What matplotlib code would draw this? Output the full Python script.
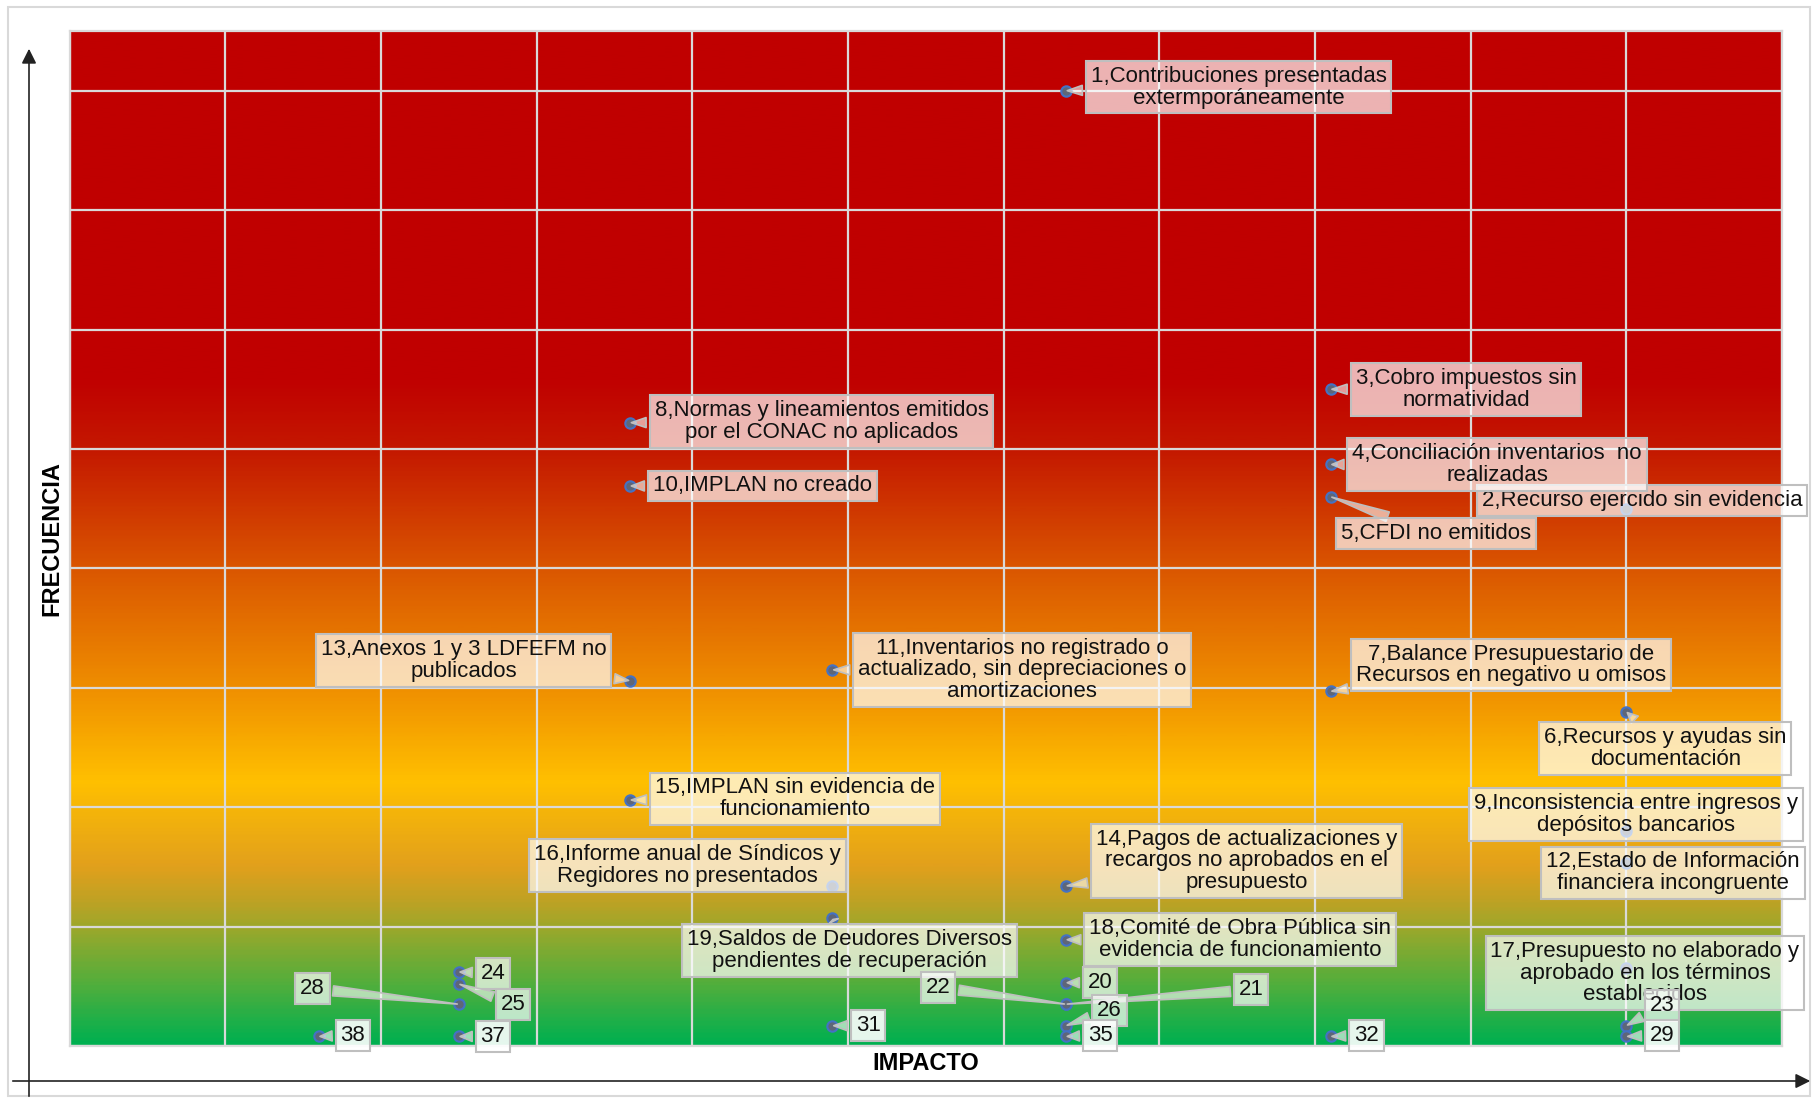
import numpy as np
import matplotlib
matplotlib.use("Agg")
import matplotlib.pyplot as plt
from matplotlib.colors import LinearSegmentedColormap
from matplotlib.patches import Rectangle, FancyArrowPatch

plt.rcParams['font.family'] = ['Liberation Sans', 'DejaVu Sans']

# ---------------- data ----------------
ids = [1, 2, 3, 4, 5, 6, 7, 8, 9, 10, 11, 12, 13, 14, 15, 16, 17, 18, 19,
       20, 21, 22, 23, 24, 25, 26, 28, 29, 31, 32, 35, 37, 38]
impacto = [6.4, 10.0, 8.1, 8.1, 8.1, 10.0, 8.1, 3.6, 10.0, 3.6, 4.9, 10.0, 3.6,
           6.4, 3.6, 4.9, 10.0, 6.4, 4.9, 6.4, 6.4, 6.4, 10.0, 2.5, 2.5, 6.4,
           2.5, 10.0, 4.9, 8.1, 6.4, 2.5, 1.6]
frecuencia = [8.0, 4.5, 5.5, 4.87, 4.6, 2.8, 2.97, 5.22, 1.8, 4.69, 3.15, 1.53,
              3.06, 1.34, 2.06, 1.34, 0.65, 0.89, 1.07, 0.53, 0.35, 0.35, 0.17,
              0.62, 0.52, 0.17, 0.35, 0.08, 0.17, 0.08, 0.08, 0.08, 0.08]
descripciones = {
    1: "Contribuciones presentadas\nextermporáneamente",
    2: "Recurso ejercido sin evidencia",
    3: "Cobro impuestos sin\nnormatividad",
    4: "Conciliación inventarios  no\nrealizadas",
    5: "CFDI no emitidos",
    6: "Recursos y ayudas sin\ndocumentación",
    7: "Balance Presupuestario de\nRecursos en negativo u omisos",
    8: "Normas y lineamientos emitidos\npor el CONAC no aplicados",
    9: "Inconsistencia entre ingresos y\ndepósitos bancarios",
    10: "IMPLAN no creado",
    11: "Inventarios no registrado o\nactualizado, sin depreciaciones o\namortizaciones",
    12: "Estado de Información\nfinanciera incongruente",
    13: "Anexos 1 y 3 LDFEFM no\npublicados",
    14: "Pagos de actualizaciones y\nrecargos no aprobados en el\npresupuesto",
    15: "IMPLAN sin evidencia de\nfuncionamiento",
    16: "Informe anual de Síndicos y\nRegidores no presentados",
    17: "Presupuesto no elaborado y\naprobado en los términos\nestablecidos",
    18: "Comité de Obra Pública sin\nevidencia de funcionamiento",
    19: "Saldos de Deudores Diversos\npendientes de recuperación",
}
x_label = "IMPACTO"
y_label = "FRECUENCIA"

# ---------------- layout ----------------
label_pos = {
    1: (7.51, 8.03), 2: (10.10, 4.57), 3: (8.97, 5.50), 4: (9.17, 4.87),
    5: (8.78, 4.29), 6: (10.25, 2.49), 7: (9.26, 3.19), 8: (4.83, 5.23),
    9: (10.06, 1.94), 10: (4.45, 4.69), 11: (6.12, 3.15), 12: (10.30, 1.45),
    13: (2.53, 3.23), 14: (7.56, 1.55), 15: (4.66, 2.07), 16: (3.97, 1.51),
    17: (10.12, 0.61), 18: (7.52, 0.89), 19: (5.01, 0.80), 20: (6.62, 0.53),
    21: (7.59, 0.47), 22: (5.58, 0.49), 23: (10.23, 0.34), 24: (2.72, 0.61),
    25: (2.85, 0.35), 26: (6.68, 0.30), 28: (1.56, 0.48), 29: (10.23, 0.09),
    31: (5.13, 0.17), 32: (8.33, 0.09), 35: (6.62, 0.09), 37: (2.72, 0.08),
    38: (1.82, 0.09),
}
no_pointer = {2, 9, 12, 16, 17}
dense_box = {29, 31, 32, 35, 37, 38}

W, H = 1817, 1101
fig = plt.figure(figsize=(W / 100, H / 100), dpi=100)
ax = fig.add_axes([69.5 / W, 55 / H, (1782 - 69.5) / W, (1046 - 31) / H])
XMAX, YMAX = 11, 8.5
ax.set_xlim(0, XMAX)
ax.set_ylim(0, YMAX)

# gradient background
stops = [(0.0, '#00B050'), (0.5, '#52AE3C'), (0.95, '#98A82C'), (1.2, '#BFA224'),
         (1.5, '#E2A01C'), (2.2, '#FFC000'), (3.0, '#EF8E00'), (4.0, '#DA5600'),
         (5.0, '#C41800'), (5.6, '#C00000'), (8.5, '#C00000')]
cmap = LinearSegmentedColormap.from_list('riesgo', [(v / YMAX, c) for v, c in stops])
grad = np.linspace(0, 1, 600).reshape(-1, 1)
ax.imshow(grad, extent=[0, XMAX, 0, YMAX], origin='lower', aspect='auto',
          cmap=cmap, zorder=0, interpolation='bilinear')

ax.set_xticks(np.arange(0, XMAX + 1, 1))
ax.set_yticks(np.arange(0, 9, 1))
ax.grid(True, color='#D9D9D9', lw=1.6, zorder=1)
ax.tick_params(length=0, labelbottom=False, labelleft=False)
for s in ax.spines.values():
    s.set_color('#D9D9D9')
    s.set_linewidth(1.6)

# markers
ax.plot(impacto, frecuencia, 'o', ms=7.5, mfc='#5E6678', mec='#4472C4',
        mew=1.5, zorder=4, clip_on=False)

# labels
for i, x, y in zip(ids, impacto, frecuencia):
    txt = f"{i},{descripciones[i]}" if i in descripciones else f"{i}"
    lx, ly = label_pos[i]
    alpha = 0.9 if i in dense_box else 0.7
    kw = {}
    if i not in no_pointer:
        kw['arrowprops'] = dict(arrowstyle='wedge,tail_width=0.45,shrink_factor=0.5',
                                fc=(1, 1, 1, 0.6), ec='#BFBFBF', lw=1.2,
                                shrinkB=1)
    ax.annotate(txt, xy=(x, y), xytext=(lx, ly), ha='center', va='center',
                fontsize=16, color='#111111', linespacing=1.05,
                bbox=dict(boxstyle='square,pad=0.22', fc=(1, 1, 1, alpha),
                          ec='#BFBFBF', lw=1.5),
                zorder=5, annotation_clip=False, **kw)

# axis arrows and titles (figure coords)
fig.patches.append(Rectangle((8 / W, 5 / H), (1810 - 8) / W, (1095 - 6) / H,
                             transform=fig.transFigure, fill=False,
                             ec='#D9D9D9', lw=1.5))
fig.patches.append(FancyArrowPatch((29 / W, 2 / H), (29 / W, (H - 46) / H),
                                   transform=fig.transFigure, arrowstyle='-|>',
                                   mutation_scale=22, color='#222222', lw=1.2))
fig.patches.append(FancyArrowPatch((10 / W, (H - 1081) / H), (1813 / W, (H - 1081) / H),
                                   transform=fig.transFigure, arrowstyle='-|>',
                                   mutation_scale=22, color='#222222', lw=1.2))
fig.text(52 / W, (H - 539) / H, y_label, rotation=90, ha='center', va='center',
         fontsize=17, fontweight='bold')
fig.text(926 / W, (H - 1064) / H, x_label, ha='center', va='center',
         fontsize=17, fontweight='bold')

fig.savefig('out.png', dpi=100)
